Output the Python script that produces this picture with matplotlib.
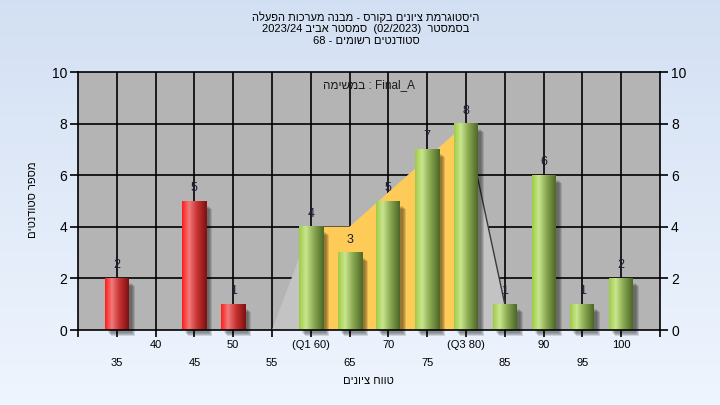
import numpy as np
import matplotlib
matplotlib.use('Agg')
import matplotlib.pyplot as plt
from matplotlib.colors import LinearSegmentedColormap
from matplotlib.patches import Polygon, Rectangle
import matplotlib.transforms as mtransforms

# ---------------- data ----------------
grades = [35, 40, 45, 50, 55, 60, 65, 70, 75, 80, 85, 90, 95, 100]
counts = [2, 0, 5, 1, 0, 4, 3, 5, 7, 8, 1, 6, 1, 2]
tick_labels = ['35', '40', '45', '50', '55', '(Q1 60)', '65', '70', '75',
               '(Q3 80)', '85', '90', '95', '100']
fail_limit = 55            # bars below this grade are red
area_x = [55, 60, 65, 80, 85]
area_y = [0, 4, 4, 8, 1]
q1, q3 = 60, 80
y_ticks = [0, 2, 4, 6, 8, 10]


def rev(s):
    return s[::-1]


title_l1 = rev("היסטוגרמת ציונים בקורס - מבנה מערכות הפעלה")
title_l2 = "2023/24 " + rev("סמסטר אביב") + "  (02/2023)  " + rev("בסמסטר")
title_l3 = "68 - " + rev("סטודנטים רשומים")
note = rev("במשימה") + " : Final_A"
xlabel = rev("טווח ציונים")
ylabel = rev("מספר סטודנטים")

plt.rcParams['font.family'] = ['Liberation Sans', 'DejaVu Sans']

W, H = 720, 405
fig = plt.figure(figsize=(7.2, 4.05), dpi=100)

# background gradient
bg = fig.add_axes([0, 0, 1, 1], zorder=-10)
g = np.linspace(0, 1, 256)[:, None, None]
top = np.array([0.827, 0.878, 0.953])
bot = np.array([0.937, 0.961, 0.996])
img = top * (1 - g) + bot * g
bg.imshow(img, aspect='auto', extent=[0, 1, 0, 1])
bg.set_xlim(0, 1); bg.set_ylim(0, 1)
bg.axis('off')

ax = fig.add_axes([78 / W, 75 / H, 582 / W, 258 / H])
ax.set_facecolor('#b4b4b4')
xmin, xmax = 30, 105
ax.set_xlim(xmin, xmax)
ax.set_ylim(0, 10)

# grid
for x in grades:
    ax.axvline(x, color='black', lw=1.2, zorder=1)
for y in y_ticks[1:-1]:
    ax.axhline(y, color='black', lw=1.2, zorder=1)

# area
ax.add_patch(Polygon(list(zip(area_x, area_y)) + [(area_x[-1], 0)], closed=True,
                     facecolor='#c3c3c3', edgecolor='none', zorder=2))
yq = [(x, y) for x, y in zip(area_x, area_y) if q1 <= x <= q3]
ax.add_patch(Polygon([(q1, 0)] + yq + [(q3, 0)], closed=True,
                     facecolor='#ffcb58', edgecolor='none', zorder=2.1))
ax.plot(area_x[-2:], area_y[-2:], color='#3a3a3a', lw=1.0, zorder=2.2)

# bars
px_x = 582 / (xmax - xmin)
px_y = 258 / 10.0
bw = 24 / px_x
red_cmap = LinearSegmentedColormap.from_list('r', [(0, '#ff1c1c'), (0.28, '#f27a7a'),
                                                   (0.6, '#c83434'), (1, '#7e1010')])
green_cmap = LinearSegmentedColormap.from_list('g', [(0, '#9fcb46'), (0.28, '#c9e68e'),
                                                     (0.6, '#8aa952'), (1, '#4c6826')])
grad = np.linspace(0, 1, 100).reshape(1, -1)
for x, v in zip(grades, counts):
    if v <= 0:
        continue
    cmap = red_cmap if x < fail_limit else green_cmap
    # soft shadow
    for k, (dx, dy, a) in enumerate([(3, 3, 0.10), (4, 4, 0.12), (5, 5, 0.14), (6, 6, 0.12)]):
        ax.add_patch(Rectangle((x - bw / 2 + dx / px_x, -dy / px_y), bw,
                               v - 2 / px_y, facecolor='black', edgecolor='none',
                               alpha=a, zorder=3, clip_on=False))
    ax.imshow(grad, cmap=cmap, aspect='auto',
              extent=[x - bw / 2, x + bw / 2, 0, v], zorder=4)
    ax.text(x, v + 13 / px_y, str(v), ha='center', va='center', fontsize=9,
            color='#1c1c38', zorder=6)

ax.set_xlim(xmin, xmax)
ax.set_ylim(0, 10)

# axes / ticks
for s in ax.spines.values():
    s.set_color('black'); s.set_linewidth(1.2); s.set_zorder(7)
ax.set_xticks(np.arange(xmin, xmax + 1, 5))
ax.set_xticklabels([])
ax.tick_params(axis='x', direction='out', length=5, width=1.2, color='black')
ax.set_yticks(y_ticks)
ax.tick_params(axis='y', direction='out', length=6, width=1.2, color='black',
               labelsize=10, right=True, labelright=True, pad=2)

trans = mtransforms.blended_transform_factory(ax.transData, ax.transAxes)
for i, (x, lab) in enumerate(zip(grades, tick_labels)):
    yy = -15 / 258 if i % 2 == 1 else -32.5 / 258
    ax.text(x, yy, lab, transform=trans, ha='center', va='center', fontsize=8,
            color='black')

ax.text(0.5, 1 - 13 / 258, note, transform=ax.transAxes, ha='center', va='center',
        fontsize=8.5, color='#1a1a1a', zorder=8)

fig.text(366 / W, 1 - 17.5 / H, title_l1, ha='center', va='center', fontsize=8)
fig.text(366 / W, 1 - 29.5 / H, title_l2, ha='center', va='center', fontsize=8)
fig.text(366 / W, 1 - 41.5 / H, title_l3, ha='center', va='center', fontsize=8)
fig.text(368 / W, 1 - 381 / H, xlabel, ha='center', va='center', fontsize=8)
fig.text(33 / W, 1 - 200 / H, ylabel, ha='center', va='center', fontsize=8,
         rotation=90)

fig.savefig('out.png', dpi=100)
